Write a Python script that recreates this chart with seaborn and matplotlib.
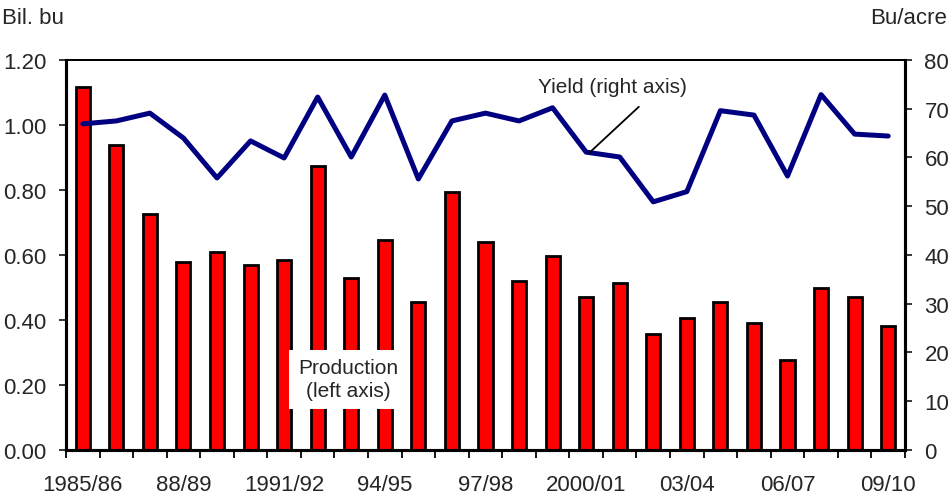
import numpy as np
import pandas as pd
import matplotlib
matplotlib.use('Agg')
import matplotlib.pyplot as plt
import seaborn as sns

# Data
years = ['1985/86', '86/87', '87/88', '88/89', '89/90', '90/91', '1991/92',
         '92/93', '93/94', '94/95', '95/96', '96/97', '97/98', '98/99',
         '99/00', '2000/01', '01/02', '02/03', '03/04', '04/05', '05/06',
         '06/07', '07/08', '08/09', '09/10']
production = [1.117, 0.938, 0.726, 0.578, 0.610, 0.570, 0.585, 0.874, 0.529,
              0.646, 0.455, 0.794, 0.640, 0.520, 0.597, 0.471, 0.514, 0.357,
              0.406, 0.455, 0.391, 0.277, 0.498, 0.471, 0.382]
yield_bu = [66.9, 67.5, 69.1, 64.0, 55.8, 63.4, 59.9, 72.4, 60.1, 72.8, 55.6,
            67.5, 69.1, 67.5, 70.2, 61.1, 60.1, 50.9, 53.0, 69.6, 68.7, 56.2,
            72.9, 64.8, 64.4]
shown_labels = ['1985/86', '88/89', '1991/92', '94/95', '97/98', '2000/01',
                '03/04', '06/07', '09/10']

df = pd.DataFrame({'year': years, 'production': production, 'yield': yield_bu})
df['pos'] = np.arange(len(df))

sns.set_style('white')
plt.rcParams['font.family'] = ['Liberation Sans', 'DejaVu Sans']
plt.rcParams['font.size'] = 16

fig = plt.figure(figsize=(9.52, 5.02), dpi=100)
ax = fig.add_axes([0.0693, 0.1016, 0.8813, 0.7769])

# Production bars (left axis)
sns.barplot(data=df, x='year', y='production', color='#ff0000', saturation=1,
            edgecolor='black', linewidth=2, width=0.42, ax=ax)
ax.set_xlim(-0.5, len(years) - 0.5)
ax.set_ylim(0, 1.2)
ax.set_yticks(np.arange(0, 1.21, 0.2))
ax.set_yticklabels([f'{v:.2f}' for v in np.arange(0, 1.21, 0.2)])
ax.set_xlabel('')
ax.set_ylabel('')

# x ticks: labels under every third bar, tick marks at bar boundaries
label_pos = [years.index(l) for l in shown_labels]
ax.set_xticks(label_pos)
ax.set_xticklabels(shown_labels)
ax.set_xticks(np.arange(-0.5, len(years), 1), minor=True)
ax.tick_params(axis='x', which='major', length=0, pad=17, labelsize=16)
ax.tick_params(axis='x', which='minor', length=6, width=1.3, direction='out',
               color='black', bottom=True)
ax.tick_params(axis='y', which='major', length=5, width=1.3, direction='out',
               left=True, pad=9, labelsize=16)

ax.text(7.9, 0.218, 'Production\n(left axis)', ha='center', va='center',
        fontsize=15, linespacing=1.3,
        bbox=dict(facecolor='white', edgecolor='none', pad=6))

# Yield line (right axis)
ax2 = ax.twinx()
sns.lineplot(data=df, x='pos', y='yield', color='#000080', linewidth=3.6,
             ax=ax2)
ax2.set_ylim(0, 80)
ax2.set_yticks(np.arange(0, 81, 10))
ax2.set_xlim(-0.5, len(years) - 0.5)
ax2.set_ylabel('')
ax2.set_xlabel('')
ax2.tick_params(axis='y', which='major', length=5, width=1.3, direction='out',
                right=True, pad=9, labelsize=16)

ax2.annotate('', xy=(15.1, 61.0), xytext=(16.57, 70.4),
             arrowprops=dict(arrowstyle='-', lw=1.3, color='black',
                             shrinkA=0, shrinkB=0))
ax2.text(15.77, 74.5, 'Yield (right axis)', ha='center', va='center',
         fontsize=15)

for a in (ax, ax2):
    for side in ('left', 'bottom', 'right'):
        a.spines[side].set_linewidth(2.2)
        a.spines[side].set_color('black')
    a.spines['top'].set_linewidth(1.4)
    a.spines['top'].set_color('black')

fig.text(2 / 952, 1 - 18 / 502, 'Bil. bu', ha='left', va='center', fontsize=16)
fig.text(947 / 952, 1 - 18 / 502, 'Bu/acre', ha='right', va='center',
         fontsize=16)

fig.savefig('out.png', dpi=100)
